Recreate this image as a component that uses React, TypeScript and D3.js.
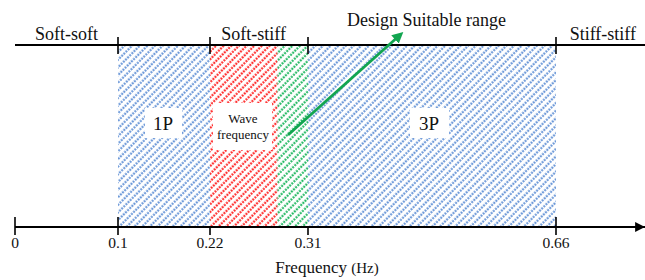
import React, { useRef, useEffect } from 'react';
import * as d3 from 'd3';

// axis ticks (schematic, not to scale)
const tickValues = [0, 0.1, 0.22, 0.31, 0.66];
const tickLabels = ['0', '0.1', '0.22', '0.31', '0.66'];
const tickPixels = [15, 118, 210, 308, 556];

// hatched frequency bands
const bandNames = ['1P', 'Wave', 'Suitable', '3P'];
const bandStart = [0.1, 0.22, 0.282, 0.31];
const bandEnd = [0.22, 0.282, 0.31, 0.66];
const bandColors = ['#6a97d8', '#ff2a2a', '#22b862', '#6a97d8'];

// stiffness regions along the top line
const regionNames = ['Soft-soft', 'Soft-stiff', 'Stiff-stiff'];
const regionCenters = [0.05, 0.26, 0.723];

const W = 645;
const H = 280;
const topY = 45;
const axisY = 227;
const serif = '"Liberation Serif", "Times New Roman", serif';

const App = () => {
  const ref = useRef<SVGSVGElement>(null);

  useEffect(() => {
    const svg = d3.select(ref.current);
    svg.selectAll('*').remove();

    const x = d3.scaleLinear()
      .domain(tickValues.concat([0.8]))
      .range(tickPixels.concat([660]));

    // patterns
    const defs = svg.append('defs');
    bandNames.forEach((name, i) => {
      const p = defs.append('pattern')
        .attr('id', 'hatch' + i)
        .attr('patternUnits', 'userSpaceOnUse')
        .attr('width', 5.4)
        .attr('height', 6)
        .attr('patternTransform', 'rotate(45)');
      p.append('line')
        .attr('x1', 1.5).attr('y1', 0)
        .attr('x2', 1.5).attr('y2', 6)
        .attr('stroke', bandColors[i])
        .attr('stroke-width', 2.1)
        .attr('stroke-dasharray', '2 1');
    });

    // bands
    svg.append('g')
      .selectAll('rect')
      .data(bandNames)
      .join('rect')
      .attr('x', (d, i) => x(bandStart[i]))
      .attr('y', topY)
      .attr('width', (d, i) => x(bandEnd[i]) - x(bandStart[i]))
      .attr('height', axisY - topY)
      .attr('fill', (d, i) => `url(#hatch${i})`);

    // label boxes
    const boxes = [
      { x0: 145, x1: 182, y0: 108, y1: 138 },
      { x0: 213, x1: 272, y0: 103, y1: 150 },
      { x0: 410, x1: 449, y0: 108, y1: 138 },
    ];
    svg.append('g')
      .selectAll('rect')
      .data(boxes)
      .join('rect')
      .attr('x', d => d.x0)
      .attr('y', d => d.y0)
      .attr('width', d => d.x1 - d.x0)
      .attr('height', d => d.y1 - d.y0)
      .attr('fill', 'white');

    const txt = (tx, ty, s, size, anchor = 'middle') =>
      svg.append('text')
        .attr('x', tx)
        .attr('y', ty)
        .attr('text-anchor', anchor)
        .style('font-family', serif)
        .style('font-size', size + 'px')
        .attr('fill', '#111')
        .text(s);

    txt(163, 130, '1P', 19);
    txt(429, 130, '3P', 19);
    txt(243, 123, 'Wave', 13);
    txt(243, 139, 'frequency', 13);

    // top line with region ticks
    svg.append('line')
      .attr('x1', 15).attr('x2', W)
      .attr('y1', topY).attr('y2', topY)
      .attr('stroke', 'black').attr('stroke-width', 2);
    svg.append('g')
      .selectAll('line')
      .data([0.1, 0.22, 0.31, 0.66])
      .join('line')
      .attr('x1', d => x(d)).attr('x2', d => x(d))
      .attr('y1', topY - 8).attr('y2', topY + 9)
      .attr('stroke', 'black').attr('stroke-width', 1.6);

    regionNames.forEach((r, i) => txt(x(regionCenters[i]), 40, r, 18));

    // bottom axis
    svg.append('defs').append('marker')
      .attr('id', 'axArrow')
      .attr('viewBox', '0 0 10 10')
      .attr('refX', 10).attr('refY', 5)
      .attr('markerWidth', 4.5).attr('markerHeight', 4.5)
      .attr('orient', 'auto')
      .append('path')
      .attr('d', 'M0,0 L10,5 L0,10 Z')
      .attr('fill', 'black');

    svg.append('line')
      .attr('x1', 15).attr('x2', 645)
      .attr('y1', axisY).attr('y2', axisY)
      .attr('stroke', 'black').attr('stroke-width', 2.2)
      .attr('marker-end', 'url(#axArrow)');

    svg.append('g')
      .selectAll('line')
      .data(tickValues)
      .join('line')
      .attr('x1', d => x(d)).attr('x2', d => x(d))
      .attr('y1', d => (d === 0.22 || d === 0.31 ? axisY : axisY - 10))
      .attr('y2', axisY + 8)
      .attr('stroke', 'black').attr('stroke-width', 1.6);

    tickValues.forEach((v, i) => txt(x(v), 248, tickLabels[i], 15.5));

    const xl = txt(327, 273, 'Frequency ', 17);
    xl.append('tspan').style('font-size', '15px').text('(Hz)');

    // design suitable range arrow
    const green = '#12a550';
    defs.append('marker')
      .attr('id', 'gArrow')
      .attr('viewBox', '0 0 10 10')
      .attr('refX', 6).attr('refY', 5)
      .attr('markerWidth', 4).attr('markerHeight', 4)
      .attr('orient', 'auto')
      .append('path')
      .attr('d', 'M0,0 L10,5 L0,10 Z')
      .attr('fill', green);
    svg.append('line')
      .attr('x1', 288).attr('y1', 135)
      .attr('x2', 400).attr('y2', 35)
      .attr('stroke', green).attr('stroke-width', 2.8)
      .attr('marker-end', 'url(#gArrow)');

    txt(347, 26, 'Design Suitable range', 18, 'start');
  }, []);

  return (
    <div style={{ position: 'fixed', left: 0, top: 0 }}>
      <svg ref={ref} width={W} height={H} style={{ display: 'block', background: 'white' }} />
    </div>
  );
};

export default App;
